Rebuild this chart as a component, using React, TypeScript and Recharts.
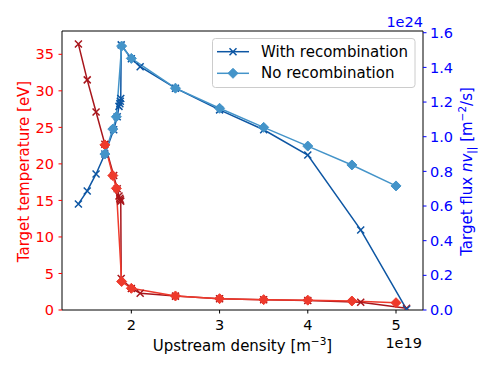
import { ComposedChart, Line, XAxis, YAxis, ReferenceLine } from 'recharts';

// upstream density in units of 1e19 m^-3
const withRecDensity = [1.4, 1.5, 1.6, 1.7, 1.8, 1.84, 1.86, 1.87, 1.875, 1.88, 1.885, 2.0, 2.1, 2.5, 3.0, 3.5, 4.0, 4.6, 5.12];
const withRecTemp = [36.4, 31.5, 27.1, 22.7, 18.4, 16.6, 15.6, 15.3, 15.1, 14.9, 4.3, 2.95, 2.3, 1.9, 1.55, 1.4, 1.3, 1.05, 0.23];
// target flux in units of 1e24
const withRecFlux = [0.612, 0.687, 0.785, 0.9, 1.04, 1.115, 1.175, 1.19, 1.205, 1.22, 1.53, 1.45, 1.404, 1.28, 1.155, 1.04, 0.894, 0.462, 0.004];

const noRecDensity = [1.7, 1.79, 1.83, 1.89, 2.0, 2.5, 3.0, 3.5, 4.0, 4.5, 5.0];
const noRecTemp = [22.6, 18.4, 16.65, 3.9, 2.97, 1.92, 1.55, 1.42, 1.35, 1.23, 1.0];
const noRecFlux = [0.9, 1.044, 1.115, 1.523, 1.452, 1.28, 1.164, 1.054, 0.946, 0.837, 0.716];

const xTicks = [2, 3, 4, 5];
const tempTicks = [0, 5, 10, 15, 20, 25, 30, 35];
const fluxTicks = [0, 0.2, 0.4, 0.6, 0.8, 1.0, 1.2, 1.4, 1.6];

const DARK_RED = '#a8151b';
const LIGHT_RED = '#ee3a2c';
const DARK_BLUE = '#0d56a3';
const LIGHT_BLUE = '#4494c9';

const FONT = 'DejaVu Sans, sans-serif';

const toRows = (xs: number[], ys: number[]) => xs.map((x, i) => ({ x, y: ys[i] }));

const crossDot = (color: string) => (props: any) => {
  const { cx, cy, index } = props;
  if (cx == null || cy == null) return <g key={index} />;
  const s = 3.5;
  return (
    <path
      key={index}
      d={`M${cx - s},${cy - s}L${cx + s},${cy + s}M${cx - s},${cy + s}L${cx + s},${cy - s}`}
      stroke={color}
      strokeWidth={1.5}
      fill="none"
    />
  );
};

const diamondDot = (color: string) => (props: any) => {
  const { cx, cy, index } = props;
  if (cx == null || cy == null) return <g key={index} />;
  const s = 5;
  return (
    <path
      key={index}
      d={`M${cx},${cy - s}L${cx + s},${cy}L${cx},${cy + s}L${cx - s},${cy}Z`}
      fill={color}
      stroke={color}
      strokeWidth={1}
    />
  );
};

export default function App() {
  const wrT = toRows(withRecDensity, withRecTemp);
  const nrT = toRows(noRecDensity, noRecTemp);
  const wrF = toRows(withRecDensity, withRecFlux);
  const nrF = toRows(noRecDensity, noRecFlux);

  const tickFont = { fontFamily: FONT, fontSize: 14.5 };

  return (
    <div style={{ position: 'absolute', left: 0, top: 0, width: 498, height: 374, background: '#fff' }}>
      <ComposedChart width={498} height={374} margin={{ top: 31, right: 25, bottom: 34, left: 0 }}>
        <XAxis
          xAxisId="d"
          type="number"
          dataKey="x"
          domain={[1.214, 5.306]}
          ticks={xTicks}
          allowDataOverflow
          height={30}
          stroke="#000"
          tickSize={3.5}
          tickMargin={6}
          tick={{ ...tickFont, fill: '#000' }}
          tickLine={{ stroke: '#000' }}
        />
        <YAxis
          yAxisId="T"
          orientation="left"
          type="number"
          width={62}
          domain={[0, 38.19]}
          ticks={tempTicks}
          allowDataOverflow
          stroke="#000"
          tickSize={3.5}
          tickMargin={4.5}
          tick={{ ...tickFont, fill: '#ff0000' }}
          tickLine={{ stroke: '#ff0000' }}
        />
        <YAxis
          yAxisId="F"
          orientation="right"
          type="number"
          width={50}
          domain={[0, 1.61]}
          ticks={fluxTicks}
          allowDataOverflow
          stroke="#000"
          tickSize={3.5}
          tickMargin={3.5}
          tick={{ ...tickFont, fill: '#0000ff' }}
          tickLine={{ stroke: '#0000ff' }}
          tickFormatter={(v: number) => v.toFixed(1)}
        />
        <ReferenceLine xAxisId="d" yAxisId="T" y={38.19} stroke="#000" strokeWidth={1} />

        <Line xAxisId="d" yAxisId="T" data={wrT} dataKey="y" type="linear" stroke={DARK_RED} strokeWidth={1.5}
          dot={crossDot(DARK_RED)} activeDot={false} isAnimationActive={false} />
        <Line xAxisId="d" yAxisId="T" data={nrT} dataKey="y" type="linear" stroke={LIGHT_RED} strokeWidth={1.5}
          dot={diamondDot(LIGHT_RED)} activeDot={false} isAnimationActive={false} />
        <Line xAxisId="d" yAxisId="F" data={wrF} dataKey="y" type="linear" stroke={DARK_BLUE} strokeWidth={1.5}
          dot={crossDot(DARK_BLUE)} activeDot={false} isAnimationActive={false} />
        <Line xAxisId="d" yAxisId="F" data={nrF} dataKey="y" type="linear" stroke={LIGHT_BLUE} strokeWidth={1.5}
          dot={diamondDot(LIGHT_BLUE)} activeDot={false} isAnimationActive={false} />

        {/* axis labels */}
        <text x={242.5} y={351} textAnchor="middle" fontFamily={FONT} fontSize={15} fill="#000">
          Upstream density [m<tspan dy={-6} fontSize={10.5}>−3</tspan><tspan dy={6}>]</tspan>
        </text>
        <text x={422} y={348} textAnchor="end" fontFamily={FONT} fontSize={14.5} fill="#000">1e19</text>
        <text x={423} y={27} textAnchor="end" fontFamily={FONT} fontSize={14.5} fill="#0000ff">1e24</text>
        <text x={29} y={171.5} transform="rotate(-90 29 171.5)" textAnchor="middle" fontFamily={FONT} fontSize={15} fill="#ff0000">
          Target temperature [eV]
        </text>
        <text x={472} y={171.5} transform="rotate(-90 472 171.5)" textAnchor="middle" fontFamily={FONT} fontSize={15} fill="#0000ff">
          Target flux <tspan fontStyle="italic">nv</tspan><tspan dy={3} fontSize={10.5}>||</tspan><tspan dy={-3}> [m</tspan><tspan dy={-6} fontSize={10.5}>−2</tspan><tspan dy={6}>/s]</tspan>
        </text>

        {/* legend */}
        <rect x={212.5} y={38.5} width={202.5} height={49} rx={3} fill="#fff" fillOpacity={0.8} stroke="#cccccc" strokeWidth={1} />
        <line x1={217} y1={51.7} x2={249} y2={51.7} stroke={DARK_BLUE} strokeWidth={1.5} />
        {crossDot(DARK_BLUE)({ cx: 233, cy: 51.7, index: 'lg1' })}
        <text x={261} y={56.8} fontFamily={FONT} fontSize={15} fill="#000">With recombination</text>
        <line x1={217} y1={73.3} x2={249} y2={73.3} stroke={LIGHT_BLUE} strokeWidth={1.5} />
        {diamondDot(LIGHT_BLUE)({ cx: 233, cy: 73.3, index: 'lg2' })}
        <text x={261} y={78.4} fontFamily={FONT} fontSize={15} fill="#000">No recombination</text>
      </ComposedChart>
    </div>
  );
}
